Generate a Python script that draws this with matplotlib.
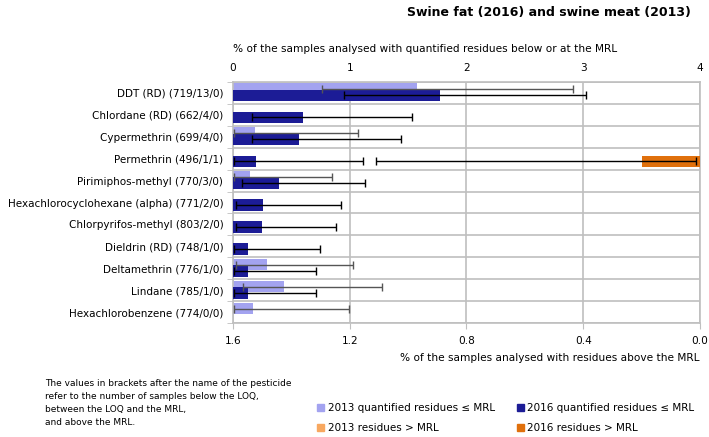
import numpy as np
import matplotlib
matplotlib.use("Agg")
import matplotlib.pyplot as plt
from matplotlib.patches import Patch

plt.rcParams['font.family'] = ['DejaVu Sans']
plt.rcParams['font.size'] = 7.6

nan = np.nan

pesticides = ['DDT (RD) (719/13/0)', 'Chlordane (RD) (662/4/0)', 'Cypermethrin (699/4/0)',
              'Permethrin (496/1/1)', 'Pirimiphos-methyl (770/3/0)',
              'Hexachlorocyclohexane (alpha) (771/2/0)', 'Chlorpyrifos-methyl (803/2/0)',
              'Dieldrin (RD) (748/1/0)', 'Deltamethrin (776/1/0)', 'Lindane (785/1/0)',
              'Hexachlorobenzene (774/0/0)']

# % quantified residues <= MRL, with confidence limits
q2013 = np.array([1.58, nan, 0.19, nan, 0.15, nan, nan, nan, 0.29, 0.44, 0.175])
q2013_lo = np.array([0.76, nan, 0.005, nan, 0.005, nan, nan, nan, 0.025, 0.09, 0.005])
q2013_hi = np.array([2.91, nan, 1.075, nan, 0.85, nan, nan, nan, 1.03, 1.28, 0.99])

q2016 = np.array([1.77, 0.60, 0.565, 0.195, 0.39, 0.26, 0.245, 0.13, 0.125, 0.125, nan])
q2016_lo = np.array([0.95, 0.16, 0.16, 0.01, 0.08, 0.03, 0.03, 0.005, 0.005, 0.005, nan])
q2016_hi = np.array([3.02, 1.53, 1.44, 1.11, 1.13, 0.925, 0.885, 0.745, 0.71, 0.71, nan])

# % residues > MRL
m2013 = np.array([nan] * 11)
m2016 = np.array([nan, nan, nan, 0.2, nan, nan, nan, nan, nan, nan, nan])
m2016_lo = np.array([nan, nan, nan, 0.014, nan, nan, nan, nan, nan, nan, nan])
m2016_hi = np.array([nan, nan, nan, 1.11, nan, nan, nan, nan, nan, nan, nan])

c13q = '#a3a3f0'
c16q = '#1c1c96'
c13m = '#f8a860'
c16m = '#e0700c'
grid = '#bfbfbf'

fig = plt.figure(figsize=(7.09, 4.37), dpi=100)
ax = fig.add_axes([0.3286, 0.2602, 0.6587, 0.5528])
ax2 = ax.twiny()

y = np.arange(len(pesticides))
h = 0.52

ax.barh(y - 0.17, q2013, height=h, color=c13q, zorder=2)
ax.barh(y + 0.12, q2016, height=h, color=c16q, zorder=3)
ax.errorbar(q2013, y - 0.17, xerr=[q2013 - q2013_lo, q2013_hi - q2013],
            fmt='none', ecolor='#555555', elinewidth=1, capsize=3, capthick=1, zorder=4)
ax.errorbar(q2016, y + 0.12, xerr=[q2016 - q2016_lo, q2016_hi - q2016],
            fmt='none', ecolor='black', elinewidth=1, capsize=3, capthick=1, zorder=5)

ax.set_xlim(0, 4)
ax.set_ylim(len(pesticides) - 0.5, -0.5)
ax.set_yticks(y)
ax.set_yticklabels(pesticides, fontsize=7.5)
ax.set_yticks(np.arange(len(pesticides) + 1) - 0.5, minor=True)
ax.tick_params(axis='y', which='major', length=0, pad=7)
ax.tick_params(axis='y', which='minor', length=4, color=grid)
ax.grid(axis='x', color=grid, lw=1.2, zorder=0)
ax.grid(axis='y', which='minor', color=grid, lw=1.2, zorder=0)
for s in ax.spines.values():
    s.set_color(grid)
    s.set_linewidth(1.2)

ax2.barh(y + 0.12, m2016, height=h, color=c16m, zorder=3)
ax2.errorbar(m2016, y + 0.12, xerr=[m2016 - m2016_lo, m2016_hi - m2016],
             fmt='none', ecolor='black', elinewidth=1, capsize=3, capthick=1, zorder=5)
ax2.set_xlim(1.6, 0)
for s in ax2.spines.values():
    s.set_visible(False)

# top axis: quantified residues <= MRL
ax.xaxis.tick_top()
ax.xaxis.set_label_position('top')
ax.set_xticks([0, 1, 2, 3, 4])
ax.tick_params(axis='x', length=0, pad=6)
ax.set_xlabel('% of the samples analysed with quantified residues below or at the MRL',
              loc='left', labelpad=8)

# bottom axis: residues > MRL
ax2.xaxis.tick_bottom()
ax2.xaxis.set_label_position('bottom')
ax2.set_xticks([1.6, 1.2, 0.8, 0.4, 0.0])
ax2.set_xticklabels(['1.6', '1.2', '0.8', '0.4', '0.0'])
ax2.tick_params(axis='x', length=4, color=grid, pad=5)
ax2.set_xlabel('% of the samples analysed with residues above the MRL', loc='right', labelpad=5)

fig.text(0.974, 0.972, 'Swine fat (2016) and swine meat (2013)', ha='right', va='center',
         fontsize=9, fontweight='bold')

fig.text(0.063, 0.078, 'The values in brackets after the name of the pesticide\n'
         'refer to the number of samples below the LOQ,\n'
         'between the LOQ and the MRL,\n'
         'and above the MRL.', ha='left', va='center', fontsize=6.5, linespacing=1.55)

handles = [Patch(color=c13q, label='2013 quantified residues \u2264 MRL'),
           Patch(color=c13m, label='2013 residues > MRL'),
           Patch(color=c16q, label='2016 quantified residues \u2264 MRL'),
           Patch(color=c16m, label='2016 residues > MRL')]
fig.legend(handles=handles, ncol=2, loc='center left', bbox_to_anchor=(0.44, 0.043),
           frameon=False, handlelength=0.7, handleheight=0.7, handletextpad=0.3,
           columnspacing=2.1, labelspacing=0.95, fontsize=7.5, borderpad=0)

fig.savefig('out.png', dpi=100)
